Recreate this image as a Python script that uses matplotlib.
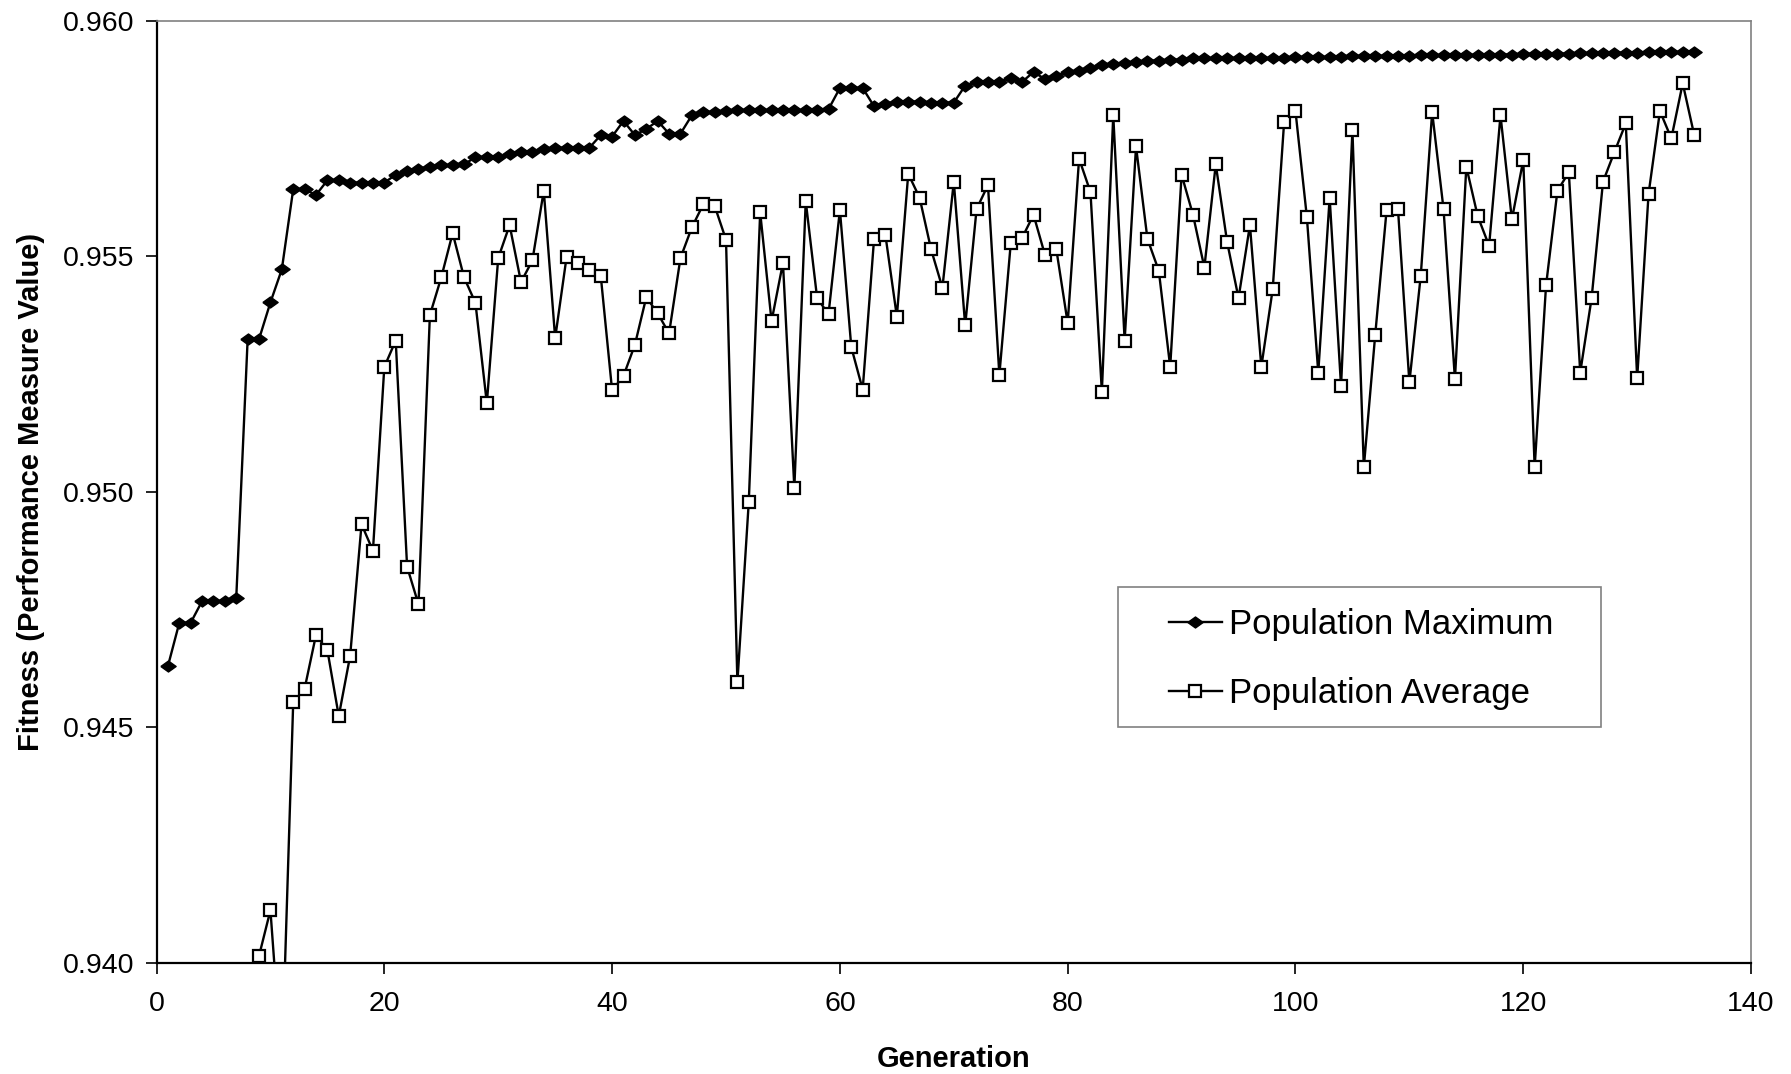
import matplotlib
matplotlib.use("Agg")
import matplotlib.pyplot as plt
from matplotlib.patches import Rectangle

plt.rcParams['font.family'] = ['Liberation Sans', 'DejaVu Sans']

# Population maximum, generations 1..135
gen_max = list(range(1, 136))
pop_max = [
    0.94630, 0.94722, 0.94722, 0.94768, 0.94768, 0.94768, 0.94775, 0.95324, 0.95324, 0.95402,
    0.95472, 0.95642, 0.95642, 0.95630, 0.95661, 0.95661, 0.95656, 0.95656, 0.95656, 0.95656,
    0.95673, 0.95680, 0.95685, 0.95690, 0.95693, 0.95693, 0.95695, 0.95710, 0.95710, 0.95710,
    0.95717, 0.95722, 0.95722, 0.95727, 0.95730, 0.95730, 0.95730, 0.95730, 0.95757, 0.95754,
    0.95787, 0.95757, 0.95770, 0.95787, 0.95760, 0.95760, 0.95799, 0.95806, 0.95806, 0.95808,
    0.95810, 0.95810, 0.95810, 0.95810, 0.95810, 0.95810, 0.95810, 0.95810, 0.95812, 0.95857,
    0.95857, 0.95857, 0.95818, 0.95823, 0.95828, 0.95828, 0.95828, 0.95826, 0.95826, 0.95826,
    0.95862, 0.95869, 0.95870, 0.95870, 0.95879, 0.95870, 0.95891, 0.95876, 0.95883, 0.95891,
    0.95893, 0.95900, 0.95905, 0.95908, 0.95910, 0.95912, 0.95915, 0.95915, 0.95917, 0.95917,
    0.95920, 0.95920, 0.95920, 0.95920, 0.95920, 0.95920, 0.95920, 0.95920, 0.95920, 0.95922,
    0.95922, 0.95922, 0.95923, 0.95923, 0.95925, 0.95925, 0.95925, 0.95925, 0.95925, 0.95925,
    0.95926, 0.95926, 0.95926, 0.95927, 0.95927, 0.95927, 0.95928, 0.95928, 0.95928, 0.95929,
    0.95930, 0.95930, 0.95930, 0.95930, 0.95931, 0.95931, 0.95931, 0.95932, 0.95932, 0.95932,
    0.95933, 0.95933, 0.95933, 0.95934, 0.95934,
]

# Population average, generations 8..135 (8 and 11 fall below the visible range)
gen_avg = list(range(8, 136))
pop_avg = [
    0.92500, 0.94015, 0.94112, 0.93780, 0.94553, 0.94582, 0.94696, 0.94664, 0.94524, 0.94652,
    0.94931, 0.94875, 0.95265, 0.95321, 0.94841, 0.94761, 0.95375, 0.95455, 0.95549, 0.95455,
    0.95401, 0.95188, 0.95496, 0.95566, 0.95445, 0.95491, 0.95639, 0.95326, 0.95498, 0.95486,
    0.95471, 0.95459, 0.95215, 0.95246, 0.95312, 0.95413, 0.95379, 0.95336, 0.95496, 0.95561,
    0.95610, 0.95607, 0.95535, 0.94596, 0.94979, 0.95593, 0.95362, 0.95486, 0.95008, 0.95617,
    0.95411, 0.95377, 0.95598, 0.95307, 0.95217, 0.95537, 0.95544, 0.95372, 0.95675, 0.95624,
    0.95515, 0.95433, 0.95658, 0.95353, 0.95600, 0.95651, 0.95248, 0.95527, 0.95539, 0.95588,
    0.95503, 0.95515, 0.95358, 0.95707, 0.95636, 0.95212, 0.95799, 0.95321, 0.95733, 0.95537,
    0.95469, 0.95265, 0.95673, 0.95588, 0.95476, 0.95695, 0.95530, 0.95411, 0.95566, 0.95265,
    0.95430, 0.95784, 0.95808, 0.95583, 0.95253, 0.95624, 0.95224, 0.95767, 0.95052, 0.95333,
    0.95598, 0.95600, 0.95232, 0.95459, 0.95806, 0.95600, 0.95239, 0.95690, 0.95585, 0.95522,
    0.95799, 0.95578, 0.95704, 0.95052, 0.95438, 0.95639, 0.95678, 0.95253, 0.95411, 0.95658,
    0.95721, 0.95782, 0.95241, 0.95632, 0.95808, 0.95750, 0.95867, 0.95758,
]

x_ticks = [0, 20, 40, 60, 80, 100, 120, 140]
y_ticks = [0.940, 0.945, 0.950, 0.955, 0.960]
y_tick_labels = ["0.940", "0.945", "0.950", "0.955", "0.960"]

fig = plt.figure(figsize=(17.91, 10.74), dpi=100)
ax = fig.add_axes([0.0874, 0.1034, 0.8903, 0.8774])

diamond = [(-1.0, 0.0), (0.0, 0.72), (1.0, 0.0), (0.0, -0.72), (-1.0, 0.0)]

ax.plot(gen_max, pop_max, color='black', lw=1.7, marker=diamond, ms=11,
        mfc='black', mec='black', label='Population Maximum', clip_on=True)
ax.plot(gen_avg, pop_avg, color='black', lw=1.7, marker='s', ms=8.5,
        mfc='white', mec='black', mew=1.6, label='Population Average', clip_on=True)

ax.set_xlim(0, 140)
ax.set_ylim(0.940, 0.960)
ax.set_xticks(x_ticks)
ax.set_yticks(y_ticks)
ax.set_yticklabels(y_tick_labels)
ax.tick_params(axis='both', direction='out', length=8, width=1.2, labelsize=20.5,
               colors='black')
ax.tick_params(axis='x', pad=12)
ax.tick_params(axis='y', pad=8)

for s in ['left', 'bottom']:
    ax.spines[s].set_color('black')
    ax.spines[s].set_linewidth(1.6)
for s in ['top', 'right']:
    ax.spines[s].set_color('#808080')
    ax.spines[s].set_linewidth(1.2)

ax.set_xlabel('Generation', fontsize=21, fontweight='bold', labelpad=20)
ax.set_ylabel('Fitness (Performance Measure Value)', fontsize=21, fontweight='bold', labelpad=13)

# legend frame drawn separately so horizontal and vertical padding can differ
ax.add_patch(Rectangle((0.603, 0.2509), 0.303, 0.1479, transform=ax.transAxes,
                       facecolor='white', edgecolor='#808080', lw=1.2, zorder=4))
leg = ax.legend(loc='center left', bbox_to_anchor=(0.6347, 0.3224), fontsize=25,
                frameon=False, handlelength=1.55, handletextpad=0.2,
                borderpad=0, labelspacing=1.04, borderaxespad=0)
leg.set_zorder(5)

fig.savefig('out.png', dpi=100)
